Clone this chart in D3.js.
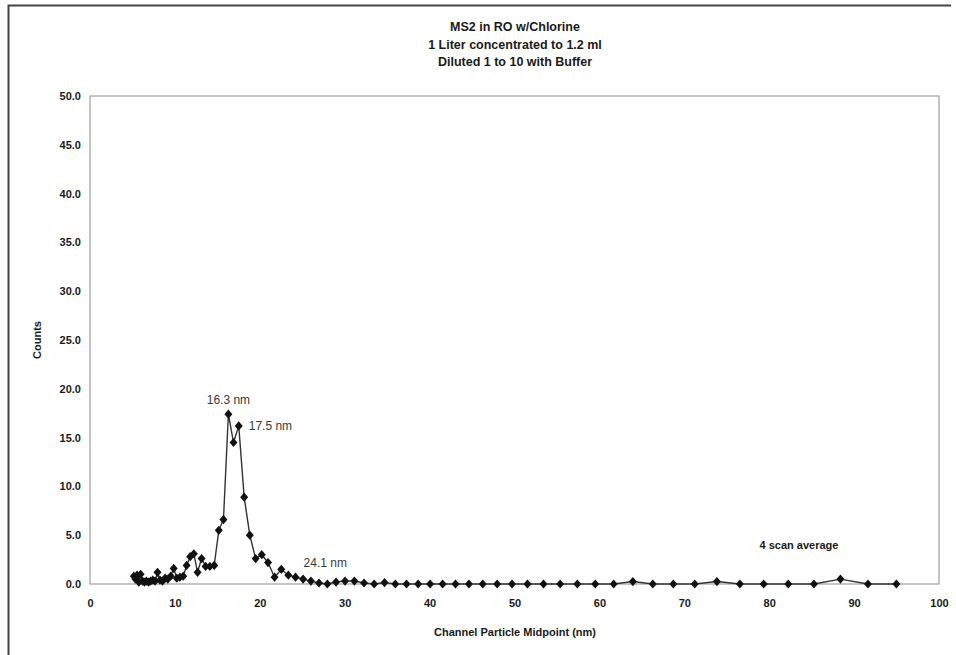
<!DOCTYPE html>
<html>
<head>
<meta charset="utf-8">
<script src="https://cdn.jsdelivr.net/npm/d3@7"></script>
<style>
  body { margin: 0; background: #fff; }
  #graph { width: 956px; height: 655px; }
  text { font-family: "Liberation Sans", Arial, sans-serif; fill: #1a1a1a; }
  .tick-label { font-size: 11px; font-weight: bold; }
  .axis-label { font-size: 11px; font-weight: bold; }
  .title { font-size: 12.5px; font-weight: bold; }
  .note { font-size: 12px; fill: #3a3a3a; }
</style>
</head>
<body>
<div id="graph"></div>
<script>
// Data
const channelMidpoints = [
    5.17, 5.35, 5.55, 5.75, 5.96, 6.18, 6.41, 6.64, 6.89, 7.14, 7.40, 7.67, 7.95, 8.24, 8.54, 8.85,
    9.17, 9.51, 9.86, 10.22, 10.59, 10.98, 11.38, 11.80, 12.23, 12.67, 13.14, 13.62, 14.12, 14.63,
    15.17, 15.72, 16.30, 16.90, 17.52, 18.16, 18.82, 19.51, 20.23, 20.97, 21.74, 22.53, 23.36, 24.21,
    25.10, 26.02, 26.97, 27.96, 28.98, 30.04, 31.14, 32.28, 33.47, 34.69, 35.96, 37.28, 38.65, 40.06,
    41.53, 43.05, 44.63, 46.26, 47.96, 49.71, 51.53, 53.42, 55.38, 57.40, 59.51, 61.68, 63.94, 66.29,
    68.71, 71.23, 73.84, 76.54, 79.35, 82.25, 85.27, 88.39, 91.63, 94.98
];
const counts = [
    0.8, 0.5, 0.9, 0.2, 1.0, 0.3, 0.2, 0.3, 0.2, 0.3, 0.4, 0.3, 1.2, 0.4, 0.3, 0.6,
    0.5, 0.8, 1.6, 0.6, 0.7, 0.8, 1.9, 2.8, 3.1, 1.2, 2.6, 1.8, 1.8, 1.9,
    5.5, 6.6, 17.4, 14.5, 16.2, 8.9, 5.0, 2.6, 3.0, 2.2, 0.7, 1.5, 0.9, 0.7,
    0.5, 0.3, 0.1, 0.0, 0.2, 0.3, 0.3, 0.1, 0.0, 0.15, 0.0, 0.0, 0.0, 0.0,
    0.0, 0.0, 0.0, 0.0, 0.0, 0.0, 0.0, 0.0, 0.0, 0.0, 0.0, 0.0, 0.25, 0.0,
    0.0, 0.0, 0.25, 0.0, 0.0, 0.0, 0.0, 0.5, 0.0, 0.0
];
const xTicks = [0, 10, 20, 30, 40, 50, 60, 70, 80, 90, 100];
const yTicks = [0, 5, 10, 15, 20, 25, 30, 35, 40, 45, 50];
const titleLines = ["MS2 in RO w/Chlorine", "1 Liter concentrated to 1.2 ml", "Diluted 1 to 10 with Buffer"];
const peakNotes = [
    { x: 16.30, y: 17.4, text: "16.3 nm" },
    { x: 17.52, y: 16.2, text: "17.5 nm" },
    { x: 24.21, y: 0.7, text: "24.1 nm" }
];

const points = channelMidpoints.map((d, i) => ({ x: d, y: counts[i] }));

// Set up the SVG
const svg = d3.select("#graph")
    .append("svg")
    .attr("width", 956)
    .attr("height", 655);

// Outer frame (left and top edges of the scanned page)
svg.append("path")
    .attr("d", "M8.5,655 L8.5,5.5 L951,5.5")
    .attr("fill", "none")
    .attr("stroke", "#444")
    .attr("stroke-width", 2);

// Set up the scales
const xScale = d3.scaleLinear().domain([0, 100]).range([90, 939]);
const yScale = d3.scaleLinear().domain([0, 50]).range([584, 96]);

// Plot area box
svg.append("rect")
    .attr("x", xScale(0))
    .attr("y", yScale(50))
    .attr("width", xScale(100) - xScale(0))
    .attr("height", yScale(0) - yScale(50))
    .attr("fill", "none")
    .attr("stroke", "#8a8a8a")
    .attr("stroke-width", 1);

// Create the X axis
const xAxis = svg.append("g")
    .attr("transform", `translate(0, ${yScale(0)})`)
    .call(d3.axisBottom(xScale).tickValues(xTicks).tickSize(0).tickPadding(15).tickFormat(d3.format("d")));
xAxis.select(".domain").remove();
xAxis.selectAll("text").attr("class", "tick-label").attr("fill", null);

// Create the Y axis
const yAxis = svg.append("g")
    .attr("transform", `translate(${xScale(0)}, 0)`)
    .call(d3.axisLeft(yScale).tickValues(yTicks).tickSize(0).tickPadding(9).tickFormat(d3.format(".1f")));
yAxis.select(".domain").remove();
yAxis.selectAll("text").attr("class", "tick-label").attr("fill", null);

// Title
svg.append("g")
    .selectAll("text")
    .data(titleLines)
    .join("text")
    .attr("class", "title")
    .attr("x", 515)
    .attr("y", (d, i) => 31 + i * 17.5)
    .style("text-anchor", "middle")
    .text(d => d);

// Axis labels
svg.append("text")
    .attr("class", "axis-label")
    .attr("transform", "translate(515, 636)")
    .style("text-anchor", "middle")
    .text("Channel Particle Midpoint (nm)");

svg.append("text")
    .attr("class", "axis-label")
    .attr("transform", "translate(41, 340) rotate(-90)")
    .style("text-anchor", "middle")
    .text("Counts");

// Data line
const line = d3.line()
    .x(d => xScale(d.x))
    .y(d => yScale(d.y));

svg.append("path")
    .datum(points)
    .attr("fill", "none")
    .attr("stroke", "#333")
    .attr("stroke-width", 1.4)
    .attr("d", line);

// Diamond markers
svg.append("g")
    .selectAll("path")
    .data(points)
    .join("path")
    .attr("transform", d => `translate(${xScale(d.x)}, ${yScale(d.y)})`)
    .attr("d", "M0,-4.6 L4,0 L0,4.6 L-4,0 Z")
    .attr("fill", "#111");

// Peak labels
svg.append("text")
    .attr("class", "note")
    .attr("x", xScale(peakNotes[0].x))
    .attr("y", yScale(peakNotes[0].y) - 10)
    .style("text-anchor", "middle")
    .text(peakNotes[0].text);

svg.append("text")
    .attr("class", "note")
    .attr("x", xScale(peakNotes[1].x) + 10)
    .attr("y", yScale(peakNotes[1].y) + 4)
    .text(peakNotes[1].text);

svg.append("text")
    .attr("class", "note")
    .attr("x", xScale(peakNotes[2].x) + 8)
    .attr("y", yScale(peakNotes[2].y) - 10)
    .text(peakNotes[2].text);

svg.append("text")
    .attr("class", "axis-label")
    .attr("x", 799)
    .attr("y", 549)
    .style("text-anchor", "middle")
    .text("4 scan average");
</script>
</body>
</html>
